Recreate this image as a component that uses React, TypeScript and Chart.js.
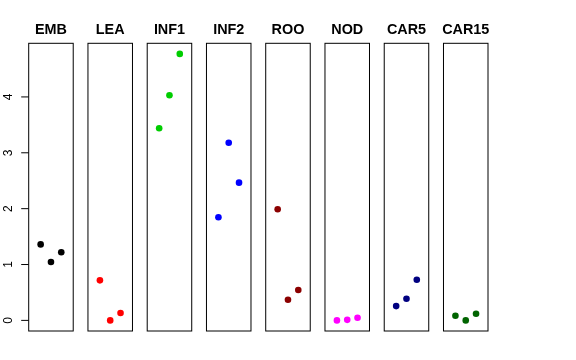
import React, { useEffect, useRef } from "react";
import { Chart, registerables } from "chart.js";

Chart.register(...registerables);

const tissues = ["EMB", "LEA", "INF1", "INF2", "ROO", "NOD", "CAR5", "CAR15"];
const colors = ["#000000", "#FF0000", "#00CD00", "#0000FF", "#8B0000", "#FF00FF", "#000080", "#006400"];

const EMB = [1.36, 1.045, 1.22];
const LEA = [0.717, 0.0, 0.131];
const INF1 = [3.44, 4.03, 4.77];
const INF2 = [1.846, 3.18, 2.466];
const ROO = [1.99, 0.369, 0.543];
const NOD = [0.0, 0.01, 0.047];
const CAR5 = [0.256, 0.387, 0.728];
const CAR15 = [0.082, 0.0, 0.118];

const seriesValues = [EMB, LEA, INF1, INF2, ROO, NOD, CAR5, CAR15];
const yTicks = [0, 1, 2, 3, 4];

const STEP = 5.75;
const PAD = 1.16;
const Y_MIN = -0.19;
const Y_MAX = 4.96;

const panelsPlugin = {
  id: "panels",
  beforeDatasetsDraw(chart: any) {
    const ctx = chart.ctx;
    const xs = chart.scales.x;
    const ys = chart.scales.y;
    const area = chart.chartArea;
    ctx.save();
    ctx.strokeStyle = "#000000";
    ctx.lineWidth = 1;
    tissues.forEach((name, i) => {
      const x0 = xs.getPixelForValue(i * STEP + 1 - PAD);
      const x1 = xs.getPixelForValue(i * STEP + 3 + PAD);
      ctx.strokeRect(x0, area.top, x1 - x0, area.bottom - area.top);
      ctx.fillStyle = "#000000";
      ctx.font = "bold 14.4px 'Liberation Sans', Arial, sans-serif";
      ctx.textAlign = "center";
      ctx.textBaseline = "alphabetic";
      ctx.fillText(name, (x0 + x1) / 2, area.top - 9.5);
    });
    // y axis on first panel
    const left = xs.getPixelForValue(1 - PAD);
    ctx.font = "12px 'Liberation Sans', Arial, sans-serif";
    yTicks.forEach((v) => {
      const y = ys.getPixelForValue(v);
      ctx.beginPath();
      ctx.moveTo(left - 7.5, y);
      ctx.lineTo(left, y);
      ctx.stroke();
      ctx.save();
      ctx.translate(12, y);
      ctx.rotate(-Math.PI / 2);
      ctx.textAlign = "center";
      ctx.textBaseline = "alphabetic";
      ctx.fillText(String(v), 0, 0);
      ctx.restore();
    });
    ctx.restore();
  },
};

export default function App() {
  const ref = useRef<HTMLCanvasElement | null>(null);
  useEffect(() => {
    if (!ref.current) return;
    const datasets = seriesValues.map((vals, i) => ({
      label: tissues[i],
      data: vals.map((v, j) => ({ x: i * STEP + j + 1, y: v })),
      backgroundColor: colors[i],
      borderColor: colors[i],
      borderWidth: 0,
      pointRadius: 3.3,
      pointHoverRadius: 3.3,
    }));
    const chart = new Chart(ref.current, {
      type: "scatter",
      data: { datasets },
      options: {
        animation: false,
        responsive: false,
        events: [],
        layout: { padding: { left: 28.7, top: 43.3, right: 88, bottom: 29 } },
        plugins: { legend: { display: false }, tooltip: { enabled: false }, title: { display: false } },
        scales: {
          x: { type: "linear", display: false, min: 1 - PAD, max: 7 * STEP + 3 + PAD },
          y: { type: "linear", display: false, min: Y_MIN, max: Y_MAX },
        },
        clip: false as any,
      },
      plugins: [panelsPlugin],
    });
    return () => chart.destroy();
  }, []);
  return (
    <div style={{ position: "absolute", left: 0, top: 0, width: 576, height: 360, background: "#fff" }}>
      <canvas ref={ref} width={576} height={360} />
    </div>
  );
}
